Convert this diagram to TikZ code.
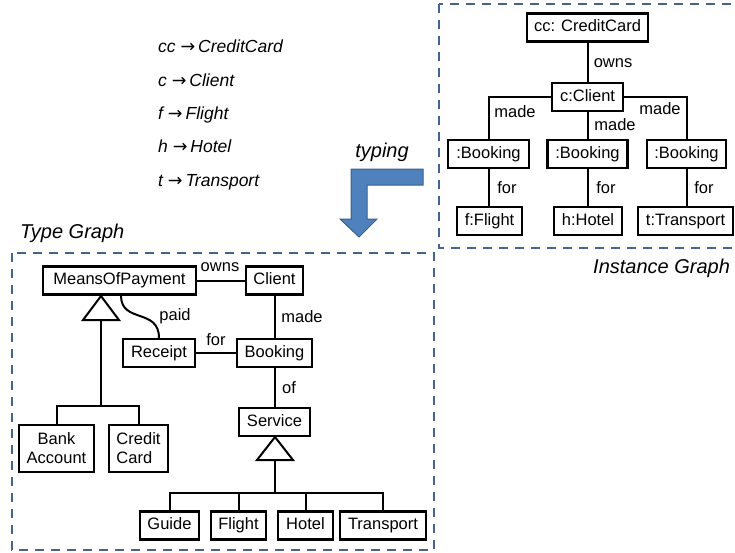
\documentclass[tikz,border=0pt]{standalone}
\usepackage{fontspec}
\setmainfont{Liberation Sans}
\newfontfamily\arrowfont{DejaVu Sans}
\definecolor{dashblue}{RGB}{65,100,145}
\definecolor{arrowfill}{RGB}{79,129,189}
\definecolor{arrowline}{RGB}{58,95,140}
\newcommand{\maparrow}{{\arrowfont\itshape →}\hspace{3pt}}
\begin{document}
\begin{tikzpicture}[x=1pt,y=-1pt,
  font=\fontsize{16.5}{19}\selectfont,
  box/.style={draw, line width=2.2pt, inner sep=0pt, minimum height=28pt, text height=11.8pt, text depth=3.5pt},
  boxtwo/.style={draw, line width=2.2pt, inner sep=0pt, minimum height=47pt, align=center},
  conn/.style={line width=2pt},
  lbl/.style={inner sep=0pt, anchor=base},
  frame/.style={draw=dashblue, line width=2pt, dash pattern=on 9pt off 7pt},
  ital/.style={font=\fontsize{20}{24}\selectfont\itshape},
  mapit/.style={font=\fontsize{17.5}{21}\selectfont\itshape}]
\clip (0,0) rectangle (735,552);

% frames
\draw[frame] (12,253) rectangle (434,550);
\draw[frame] (439,4) rectangle (765,248);
\node[lbl, ital, anchor=base west] (tglabel) at (20,238) {Type Graph};
\node[lbl, ital, anchor=base west] (iglabel) at (593,273) {Instance Graph};

% mapping
\node[lbl, mapit, anchor=base west] (m1) at (158,52) {cc \maparrow CreditCard};
\node[lbl, mapit, anchor=base west] (m2) at (158,86) {c \maparrow Client};
\node[lbl, mapit, anchor=base west] (m3) at (158,119) {f \maparrow Flight};
\node[lbl, mapit, anchor=base west] (m4) at (158,152) {h \maparrow Hotel};
\node[lbl, mapit, anchor=base west] (m5) at (158,186) {t \maparrow Transport};

% typing arrow
\node[lbl, ital] (typing) at (382,157) {typing};
\draw[fill=arrowfill, draw=arrowline, line width=1pt, line join=miter]
  (423,169) -- (351,169) -- (351,219) -- (340,219) -- (359,237) -- (377,219)
  -- (367,219) -- (367,185) -- (423,185) -- cycle;

% ---------- Type graph ----------
\node[box, minimum width=153pt] (mop) at (119.5,280.5) {MeansOfPayment};
\node[box, minimum width=57pt] (client) at (274.5,280.5) {Client};
\node[box, minimum width=72pt] (receipt) at (159,353) {Receipt};
\node[box, minimum width=75pt] (booking) at (274.5,353) {Booking};
\node[box, minimum width=71pt] (service) at (274.5,422) {Service};
\node[boxtwo, minimum width=75pt] (bank) at (56.5,448.5) {Bank\\Account};
\node[boxtwo, minimum width=59pt, align=left] (credit) at (138.5,448.5) {Credit\\Card};
\node[box, minimum width=59pt] (guide) at (169.5,525.5) {Guide};
\node[box, minimum width=55pt] (flight) at (238.5,525.5) {Flight};
\node[box, minimum width=55pt] (hotel) at (305.5,525.5) {Hotel};
\node[box, minimum width=86pt] (transport) at (383,525.5) {Transport};

\draw[conn] (mop.east) -- (client.west);
\node[lbl] (lowns) at (220,271) {owns};
\draw[conn] (client.south) -- (booking.north);
\node[lbl] (lmade) at (302,322) {made};
\draw[conn] (receipt.east) -- (booking.west);
\node[lbl] (lfor) at (216,345) {for};
\draw[conn] (booking.south) -- (service.north);
\node[lbl] (lof) at (289,393) {of};
\draw[conn] ([xshift=1.5pt]mop.south) .. controls +(0,28) and +(0,-30) .. (receipt.north);
\node[lbl] (lpaid) at (175,320) {paid};

% inheritance MeansOfPayment
\coordinate (tri1) at (101,320);
\coordinate (j1) at (101,406);
\draw[conn] (bank.north) |- (j1) -| (credit.north);
\draw[conn] (j1) -- (tri1);
\draw[conn, fill=white, line join=miter] (101,296) -- (83,320) -- (119,320) -- cycle;

% inheritance Service
\coordinate (tri2) at (275,460);
\coordinate (j2) at (275,493);
\draw[conn] (guide.north) |- (j2) -| (transport.north);
\draw[conn] (flight.north) -- (flight.north |- j2);
\draw[conn] (hotel.north) -- (hotel.north |- j2);
\draw[conn] (j2) -- (tri2);
\draw[conn, fill=white, line join=miter] (275,437) -- (257,460) -- (293,460) -- cycle;

% ---------- Instance graph ----------
\node[box, minimum width=121pt] (icc) at (587.5,27.5) {cc: CreditCard};
\node[box, minimum width=71pt] (icl) at (587.5,97) {c:Client};
\node[box, minimum width=81pt] (ib1) at (488.5,154) {:Booking};
\node[box, minimum width=80pt] (ib2) at (587.5,154) {:Booking};
\node[box, minimum width=79pt] (ib3) at (686.5,154) {:Booking};
\node[box, minimum width=65pt] (ifl) at (489.5,221) {f:Flight};
\node[box, minimum width=68pt] (iho) at (588,221) {h:Hotel};
\node[box, minimum width=95pt] (itr) at (685.5,221) {t:Transport};

\draw[conn] (icc.south) -- (icl.north);
\node[lbl] (iowns) at (613,67) {owns};
\draw[conn] (icl.west) -| (ib1.north);
\draw[conn] (icl.south) -- (ib2.north);
\draw[conn] (icl.east) -| (ib3.north);
\node[lbl] (imade1) at (515,117) {made};
\node[lbl] (imade2) at (615,130) {made};
\node[lbl] (imade3) at (660,114) {made};
\draw[conn] (ib1.south) -- (ib1.south |- ifl.north);
\draw[conn] (ib2.south) -- (ib2.south |- iho.north);
\draw[conn] (ib3.south) -- (ib3.south |- itr.north);
\node[lbl] (ifor1) at (507,193) {for};
\node[lbl] (ifor2) at (606,193) {for};
\node[lbl] (ifor3) at (704,193) {for};
\end{tikzpicture}
\end{document}
